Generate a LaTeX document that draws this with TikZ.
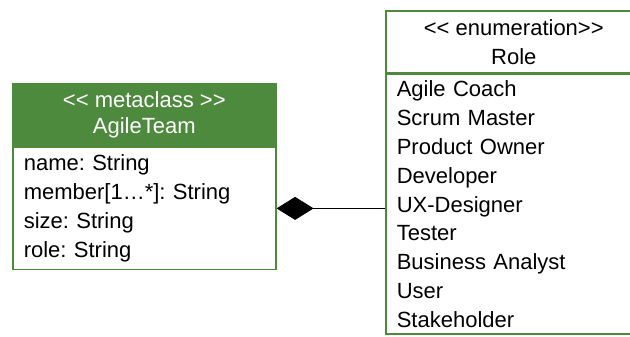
\documentclass[tikz,border=0pt]{standalone}
\usepackage{fontspec}
\setmainfont{Liberation Sans}
\usepackage{tikz}
\usetikzlibrary{arrows.meta,positioning}
\definecolor{umlgreen}{HTML}{4E8A3E}
\definecolor{ink}{HTML}{000000}
\definecolor{paper}{HTML}{FFFFFF}
\frenchspacing
\tikzset{
  box/.style={draw=umlgreen, line width=1.6pt, inner sep=0pt, font=\fontsize{22}{28.8}\selectfont},
  headbox/.style={box, align=center, minimum height=62pt},
  bodybox/.style={box, fill=paper, text=ink, align=left, inner xsep=11pt, anchor=north},
  compo/.style={{Diamond[length=37pt,width=23pt]}-, line width=0.8pt, draw=ink}
}
\begin{document}
\begin{tikzpicture}[x=1pt,y=-1pt]
  \useasboundingbox (0,0) rectangle (630,337);
  \clip (0,0) rectangle (630,337);
  \fill[paper] (0,0) rectangle (630,337);
  % metaclass on the left
  \node[headbox, fill=umlgreen, text=paper, minimum width=263pt, anchor=north west] (team) at (12,83)
    {\raisebox{-3pt}{<{}< metaclass >{}>}\\AgileTeam};
  \node[bodybox, text width=241pt, inner ysep=2pt, minimum height=122pt, below=0pt of team] (teamattr)
    {name: String\\member[1\dots*]: String\\size: String\\role: String\\[4pt]};
  % enumeration on the right, runs off the page
  \node[headbox, fill=paper, text=ink, minimum width=256pt, anchor=north west] (role) at (385,10)
    {<{}< enumeration>{}>\\Role};
  \node[bodybox, text width=234pt, inner ysep=6.5pt, below=0pt of role] (rolelit)
    {Agile Coach\\Scrum Master\\Product Owner\\Developer\\UX-Designer\\Tester\\Business Analyst\\User\\Stakeholder};
  % composition
  \draw[compo] (teamattr.east) -- (teamattr.east -| rolelit.west);
\end{tikzpicture}
\end{document}
